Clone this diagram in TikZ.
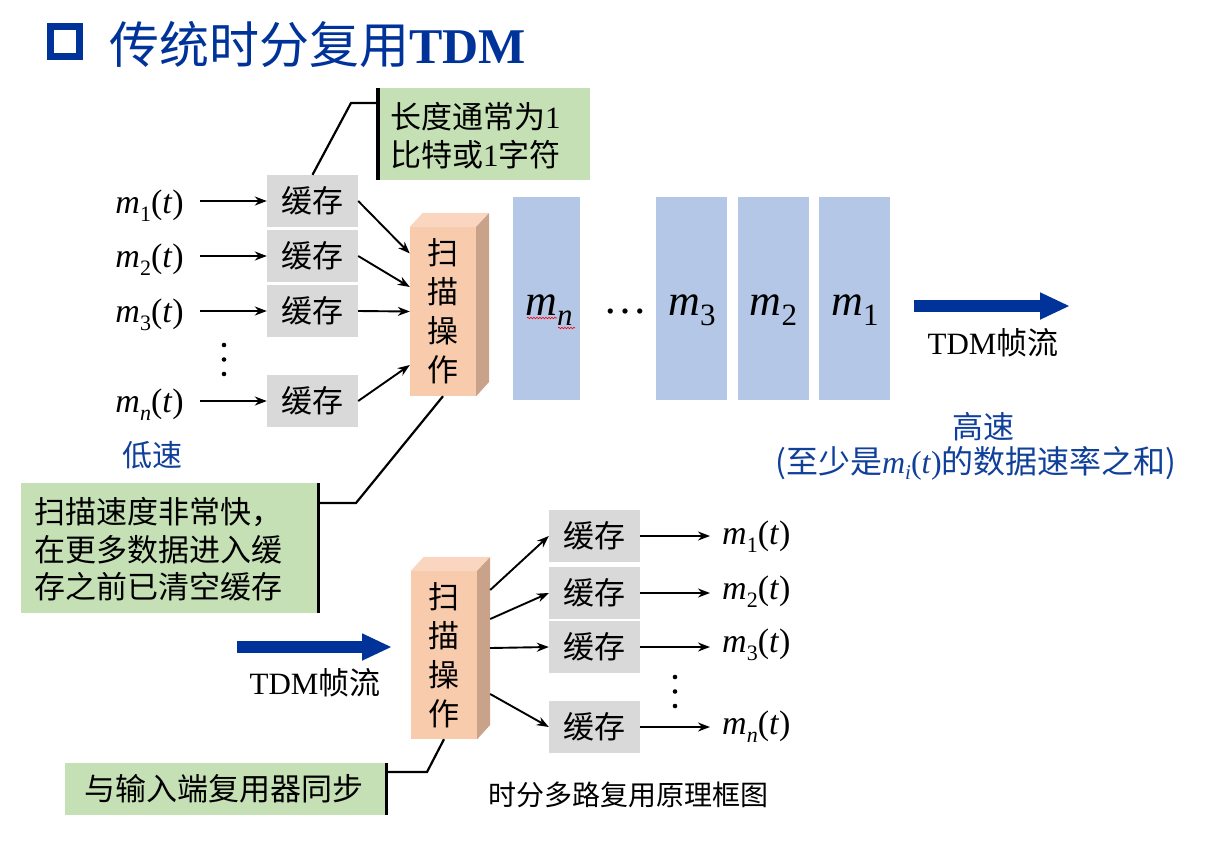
\documentclass[tikz,border=0pt]{standalone}
\usepackage{fontspec}
\setmainfont{Liberation Serif}
\newfontfamily\cjk{Noto Sans CJK SC}
\usetikzlibrary{arrows.meta,calc,decorations.pathmorphing}
\definecolor{tblue}{HTML}{003399}
\definecolor{lblue}{HTML}{10409A}
\definecolor{bufgray}{HTML}{D9D9D9}
\definecolor{cgreen}{HTML}{C5E0B4}
\definecolor{fblue}{HTML}{B4C7E7}
\definecolor{sfront}{HTML}{F8CBAD}
\definecolor{stopc}{HTML}{FAD6C0}
\definecolor{sside}{HTML}{C9A28A}
\newcommand\fsz[2]{\fontsize{#1}{#2}\selectfont}
\newcommand\sbsmall[1]{\raisebox{-0.24em}{\fsz{22}{22}#1}}
\newcommand\sbbig[1]{\raisebox{-0.23em}{\fsz{31}{31}#1}}
\newcommand\sig[1]{\textit{m}\sbsmall{#1}(\textit{t})}
\begin{document}
\begin{tikzpicture}[x=1pt,y=-1pt,
  buf/.style={fill=bufgray, minimum width=91, minimum height=52, inner sep=0, font=\cjk\fsz{31}{31}},
  callout/.style={fill=cgreen, inner sep=0, anchor=north west},
  scanbox/.style={fill=sfront, minimum width=66, inner sep=0, align=center, font=\cjk\fsz{31}{39}},
  framebox/.style={fill=fblue, minimum height=203, inner sep=0},
  siglabel/.style={inner sep=0, font=\fsz{34}{34}},
  framelabel/.style={inner sep=0, font=\fsz{44}{44}},
  txt/.style={inner sep=0, font=\cjk\fsz{31}{37.5}, align=left},
  arr/.style={line width=1.9, -{Stealth[length=12pt,width=9pt]}},
  bigarrow/.style={tblue, line width=12.5, -{Triangle[length=30pt,width=25pt]}},
  pointer/.style={line width=2.2},
  edge/.style={line width=3.2}]
\useasboundingbox (0,0) rectangle (1220,844);

% title
\draw[tblue, line width=7] (50.5,26.5) rectangle (79.5,56.5);
\node[anchor=base west, inner sep=0, text=tblue, font=\fsz{50}{50}] (title) at (109,63) {{\cjk 传统时分复用}\textbf{TDM}};

% callout 1
\node[callout, minimum width=212, minimum height=92] (g1) at (378,88) {};
\node[txt, anchor=west] (g1t) at (390,135.5) {长度通常为{\rmfamily 1}\\比特或{\rmfamily 1}字符};
\draw[edge] (g1.north west) -- (g1.south west);

% input buffers
\node[buf] (b1) at (312.5,201) {缓存};
\node[buf] (b2) at (312.5,256) {缓存};
\node[buf] (b3) at (312.5,311) {缓存};
\node[buf] (b4) at (312.5,401) {缓存};
\draw[pointer] (b1.north) -- (351,103) -- ($(g1.north west)+(0,15)$);

% input labels
\node[siglabel, anchor=east] (i1) at (184,206) {\sig{1}};
\node[siglabel, anchor=east] (i2) at (184,260) {\sig{2}};
\node[siglabel, anchor=east] (i3) at (184,315) {\sig{3}};
\node[siglabel, anchor=east] (i4) at (184,405) {\sig{\textit{n}}};
\draw[arr, shorten <=16pt] (i1.east |- b1.west) -- (b1.west);
\draw[arr, shorten <=16pt] (i2.east |- b2.west) -- (b2.west);
\draw[arr, shorten <=16pt] (i3.east |- b3.west) -- (b3.west);
\draw[arr, shorten <=16pt] (i4.east |- b4.west) -- (b4.west);
\fill (224,345) circle (2.3) (224,359.5) circle (2.3) (224,374) circle (2.3);
\node[inner sep=0, text=lblue, font=\cjk\fsz{30}{30}] (low) at (152,455) {低速};

% scanner 1
\node[scanbox, minimum height=169] (s1) at (443,311.5) {扫\\描\\操\\作};
\fill[stopc] (s1.north west) -- ++(13,-14) -- ++(66,0) -- (s1.north east) -- cycle;
\fill[sside] (s1.north east) -- ++(13,-14) -- ++(0,169) -- (s1.south east) -- cycle;
\draw[arr] (b1.east) -- ($(s1.west)+(0,-58)$);
\draw[arr] (b2.east) -- ($(s1.west)+(0,-24.5)$);
\draw[arr] (b3.east) -- ($(s1.west)+(0,0)$);
\draw[arr] (b4.east) -- ($(s1.west)+(0,53.5)$);

% frames
\node[framebox, minimum width=67] (fn) at (546.5,298.5) {};
\node[framebox, minimum width=71] (f3) at (691.5,298.5) {};
\node[framebox, minimum width=71] (f2) at (773.5,298.5) {};
\node[framebox, minimum width=71] (f1) at (854.5,298.5) {};
\node[framelabel] (ln) at (549,310) {\textit{m}\sbbig{\textit{n}}};
\node[framelabel] (l3) at (692,310) {\textit{m}\sbbig{3}};
\node[framelabel] (l2) at (773.5,310) {\textit{m}\sbbig{2}};
\node[framelabel] (l1) at (855,310) {\textit{m}\sbbig{1}};
\draw[red, line width=0.6, decorate, decoration={snake, amplitude=0.8pt, segment length=3pt}] (527,318) -- (557,318);
\draw[red, line width=0.6, decorate, decoration={snake, amplitude=0.8pt, segment length=3pt}] (558,328) -- (575,328);
\node[anchor=base, inner sep=0, font=\fsz{44}{44}] (dots1) at (625,313) {…};

% output arrow top
\coordinate (a1s) at (914,306);
\coordinate (a1e) at (1070,306);
\draw[bigarrow] (a1s) -- (a1e);
\node[inner sep=0, font=\fsz{31}{31}] (tdm1) at (993,343) {TDM{\cjk 帧流}};
\node[inner sep=0, text=lblue, font=\cjk\fsz{31}{31}] (high) at (983,427) {高速};
\node[inner sep=0, text=lblue, font=\cjk\fsz{32}{32}] (high2) at (976,463) {(至少是{\rmfamily\textit{m}\raisebox{-0.2em}{\fsz{21}{21}\textit{i}}(\textit{t})}的数据速率之和)};

% callout 2
\node[callout, minimum width=297, minimum height=130] (g2) at (21,483) {};
\node[txt, anchor=west] (g2t) at (34,549.5) {扫描速度非常快，\\在更多数据进入缓\\存之前已清空缓存};
\draw[edge] (g2.north east) -- (g2.south east);
\draw[pointer] ($(g2.north east)+(0,20)$) -- (356,503) -- (s1.south);

% scanner 2
\node[scanbox, minimum height=168] (s2) at (444,655) {扫\\描\\操\\作};
\fill[stopc] (s2.north west) -- ++(13,-14) -- ++(66,0) -- (s2.north east) -- cycle;
\fill[sside] (s2.north east) -- ++(13,-14) -- ++(0,168) -- (s2.south east) -- cycle;

% bottom input arrow
\coordinate (a2s) at (237,647);
\coordinate (a2e) at (392,647);
\draw[bigarrow] (a2s) -- (a2e);
\node[inner sep=0, font=\fsz{31}{31}] (tdm2) at (315,683) {TDM{\cjk 帧流}};

% output buffers
\node[buf] (c1) at (594.5,536) {缓存};
\node[buf] (c2) at (594.5,593) {缓存};
\node[buf] (c3) at (594.5,647) {缓存};
\node[buf] (c4) at (594.5,727) {缓存};
\draw[arr] ($(s2.east)+(13,-65)$) -- (c1.west);
\draw[arr] ($(s2.east)+(13,-36)$) -- (c2.west);
\draw[arr] ($(s2.east)+(13,-7)$) -- (c3.west);
\draw[arr] ($(s2.east)+(13,39)$) -- (c4.west);

\node[siglabel, anchor=west] (o1) at (722,537) {\sig{1}};
\node[siglabel, anchor=west] (o2) at (722,592) {\sig{2}};
\node[siglabel, anchor=west] (o3) at (722,645) {\sig{3}};
\node[siglabel, anchor=west] (o4) at (722,727) {\sig{\textit{n}}};
\draw[arr, shorten >=12pt] (c1.east) -- (c1.east -| o1.west);
\draw[arr, shorten >=12pt] (c2.east) -- (c2.east -| o2.west);
\draw[arr, shorten >=12pt] (c3.east) -- (c3.east -| o3.west);
\draw[arr, shorten >=12pt] (c4.east) -- (c4.east -| o4.west);
\fill (675,677) circle (2.3) (675,691.5) circle (2.3) (675,706) circle (2.3);

% callout 3
\node[callout, minimum width=321, minimum height=52] (g3) at (65,763) {};
\node[txt] (g3t) at (224,789) {与输入端复用器同步};
\draw[edge] (g3.north east) -- (g3.south east);
\draw[pointer] ($(g3.north east)+(0,9)$) -- (427,772) -- (s2.south);

% caption
\node[inner sep=0, font=\cjk\fsz{28}{28}] (cap) at (628,795) {时分多路复用原理框图};
\end{tikzpicture}
\end{document}
